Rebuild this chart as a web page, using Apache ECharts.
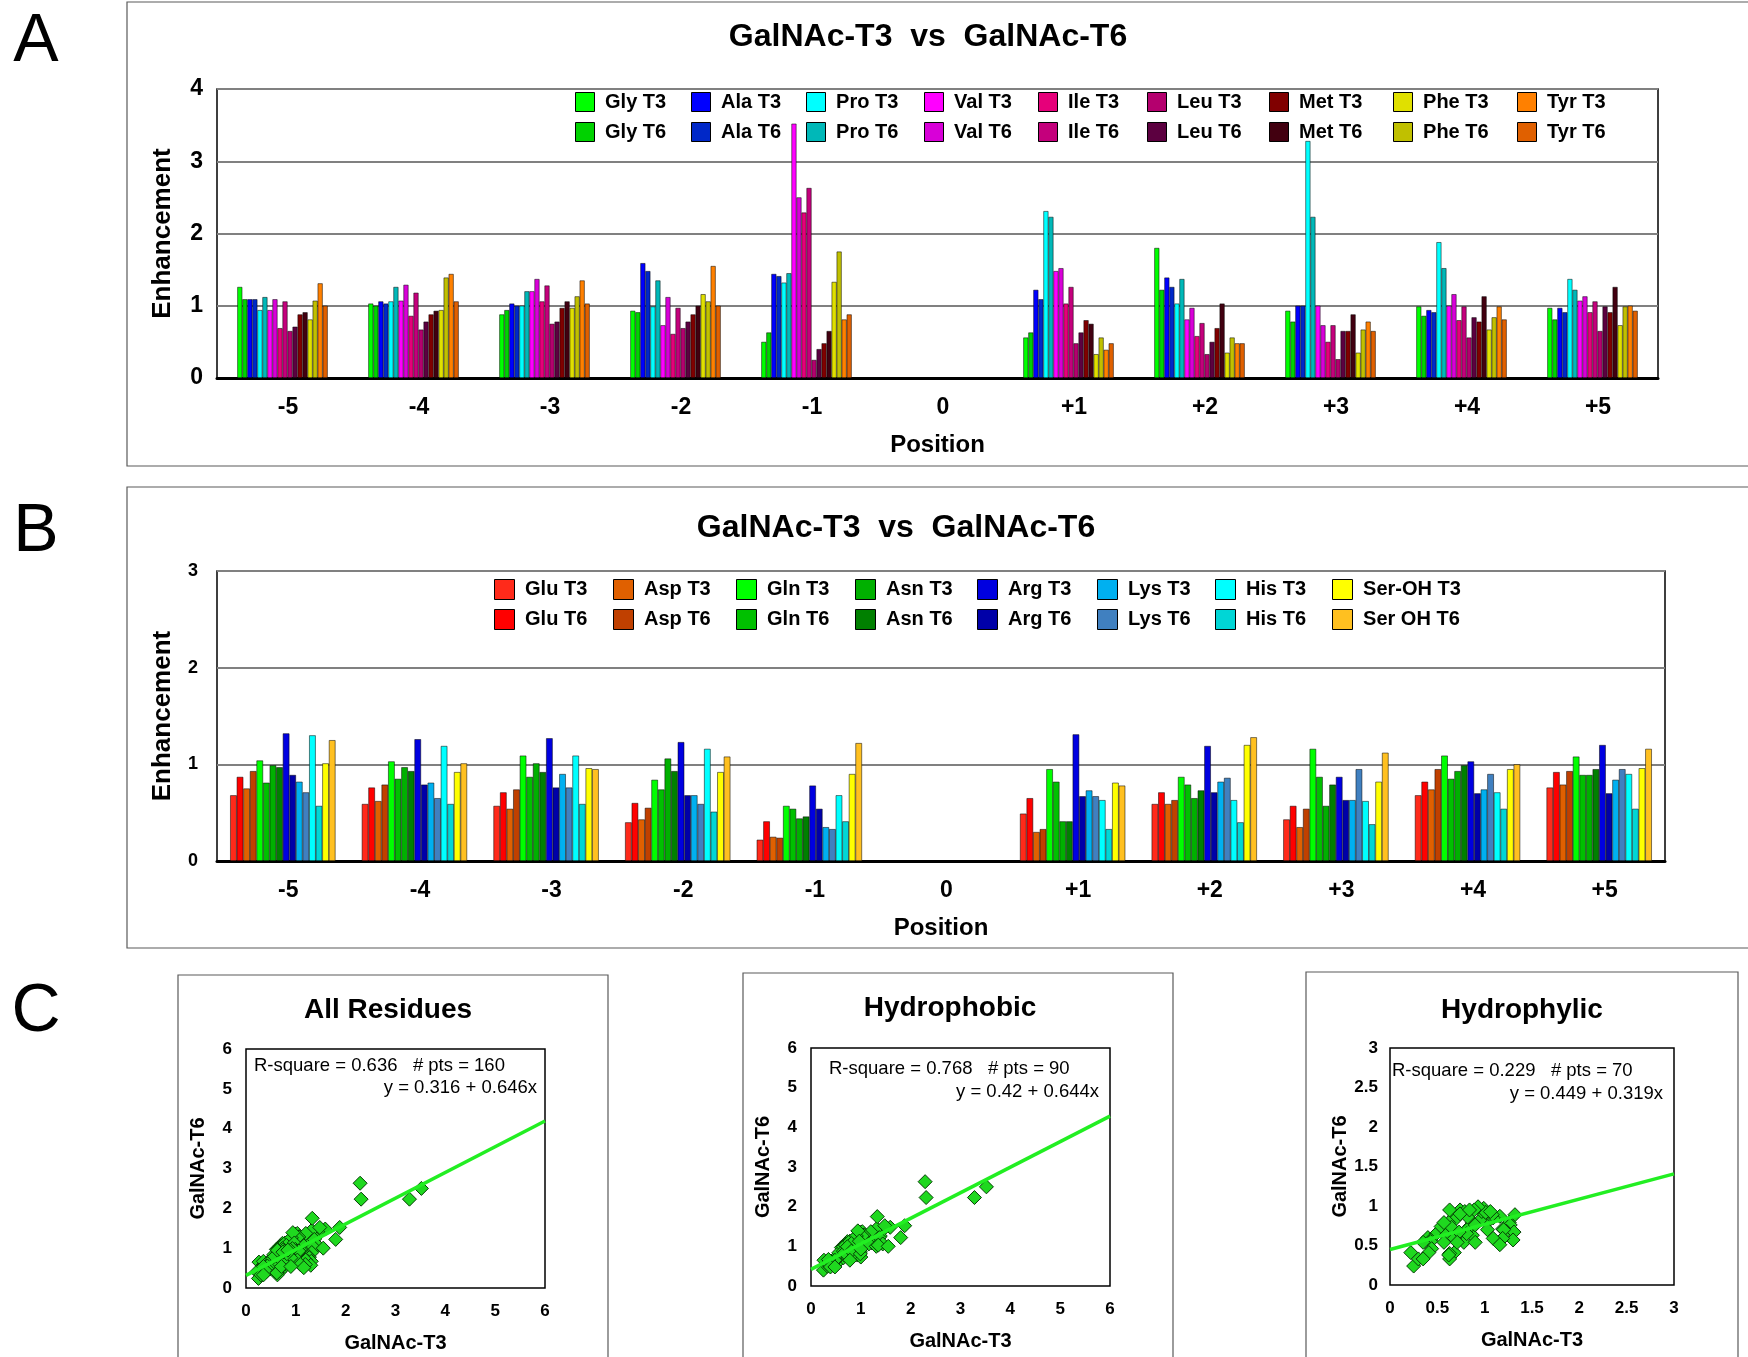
<!DOCTYPE html>
<html><head><meta charset="utf-8">
<script src="https://cdn.jsdelivr.net/npm/echarts@6.0.0/dist/echarts.min.js"></script>
<style>html,body{margin:0;padding:0;background:#fff}#c{width:1748px;height:1357px}</style>
</head><body><div id="c"></div><script>
// ---------------- DATA ----------------
const positions = ['-5','-4','-3','-2','-1','0','+1','+2','+3','+4','+5'];

// Panel A (hydrophobic residues), values per position -5..+5 (0 has no bar)
const glyT3 = [1.26, 1.03, 0.88, 0.93, 0.50, null, 0.56, 1.80, 0.93, 0.99, 0.97];
const glyT6 = [1.09, 1.00, 0.94, 0.91, 0.63, null, 0.63, 1.22, 0.78, 0.86, 0.81];
const alaT3 = [1.09, 1.06, 1.03, 1.59, 1.44, null, 1.22, 1.39, 1.00, 0.94, 0.97];
const alaT6 = [1.09, 1.03, 1.00, 1.48, 1.41, null, 1.09, 1.26, 1.00, 0.91, 0.91];
const proT3 = [0.94, 1.06, 1.00, 0.99, 1.32, null, 2.31, 1.03, 3.28, 1.88, 1.37];
const proT6 = [1.12, 1.26, 1.20, 1.35, 1.45, null, 2.23, 1.37, 2.23, 1.52, 1.22];
const valT3 = [0.94, 1.07, 1.20, 0.73, 3.52, null, 1.48, 0.81, 1.00, 1.00, 1.07];
const valT6 = [1.09, 1.29, 1.37, 1.12, 2.50, null, 1.52, 0.97, 0.73, 1.16, 1.13];
const ileT3 = [0.69, 0.86, 1.06, 0.61, 2.29, null, 1.03, 0.58, 0.50, 0.80, 0.91];
const ileT6 = [1.06, 1.18, 1.28, 0.97, 2.63, null, 1.26, 0.76, 0.73, 0.99, 1.06];
const leuT3 = [0.65, 0.67, 0.75, 0.69, 0.25, null, 0.48, 0.33, 0.26, 0.56, 0.65];
const leuT6 = [0.71, 0.78, 0.78, 0.78, 0.40, null, 0.63, 0.50, 0.65, 0.84, 0.99];
const metT3 = [0.88, 0.88, 0.97, 0.88, 0.48, null, 0.80, 0.69, 0.65, 0.78, 0.91];
const metT6 = [0.91, 0.93, 1.06, 1.00, 0.65, null, 0.75, 1.03, 0.88, 1.13, 1.26];
const pheT3 = [0.81, 0.94, 0.97, 1.16, 1.33, null, 0.33, 0.35, 0.35, 0.67, 0.73];
const pheT6 = [1.07, 1.39, 1.13, 1.06, 1.75, null, 0.56, 0.56, 0.67, 0.84, 0.99];
const tyrT3 = [1.31, 1.44, 1.35, 1.55, 0.81, null, 0.39, 0.48, 0.78, 0.99, 1.00];
const tyrT6 = [1.00, 1.06, 1.03, 1.00, 0.88, null, 0.48, 0.48, 0.65, 0.81, 0.93];

// Panel B (hydrophilic residues)
const gluT3 = [0.68, 0.59, 0.57, 0.40, 0.22, null, 0.49, 0.59, 0.43, 0.68, 0.76];
const gluT6 = [0.87, 0.76, 0.71, 0.60, 0.41, null, 0.65, 0.71, 0.57, 0.82, 0.92];
const aspT3 = [0.75, 0.62, 0.54, 0.43, 0.25, null, 0.30, 0.59, 0.35, 0.74, 0.79];
const aspT6 = [0.93, 0.79, 0.74, 0.55, 0.24, null, 0.33, 0.63, 0.54, 0.95, 0.93];
const glnT3 = [1.04, 1.03, 1.09, 0.84, 0.57, null, 0.95, 0.87, 1.16, 1.09, 1.08];
const glnT6 = [0.81, 0.85, 0.87, 0.74, 0.54, null, 0.82, 0.79, 0.87, 0.85, 0.89];
const asnT3 = [0.99, 0.97, 1.01, 1.06, 0.44, null, 0.41, 0.65, 0.57, 0.93, 0.89];
const asnT6 = [0.97, 0.93, 0.92, 0.93, 0.46, null, 0.41, 0.73, 0.79, 0.99, 0.95];
const argT3 = [1.32, 1.26, 1.27, 1.23, 0.78, null, 1.31, 1.19, 0.87, 1.03, 1.20];
const argT6 = [0.89, 0.79, 0.76, 0.68, 0.54, null, 0.67, 0.71, 0.63, 0.70, 0.70];
const lysT3 = [0.82, 0.81, 0.90, 0.68, 0.35, null, 0.73, 0.82, 0.63, 0.74, 0.84];
const lysT6 = [0.71, 0.65, 0.76, 0.59, 0.33, null, 0.67, 0.86, 0.95, 0.90, 0.95];
const hisT3 = [1.30, 1.19, 1.09, 1.16, 0.68, null, 0.63, 0.63, 0.62, 0.71, 0.90];
const hisT6 = [0.57, 0.59, 0.59, 0.51, 0.41, null, 0.33, 0.40, 0.38, 0.54, 0.54];
const serT3 = [1.01, 0.92, 0.96, 0.92, 0.90, null, 0.81, 1.20, 0.82, 0.95, 0.96];
const serT6 = [1.25, 1.01, 0.95, 1.08, 1.22, null, 0.78, 1.28, 1.12, 1.00, 1.16];

const namesA_T3 = ['Gly T3','Ala T3','Pro T3','Val T3','Ile T3','Leu T3','Met T3','Phe T3','Tyr T3'];
const namesA_T6 = ['Gly T6','Ala T6','Pro T6','Val T6','Ile T6','Leu T6','Met T6','Phe T6','Tyr T6'];
const namesB_T3 = ['Glu T3','Asp T3','Gln T3','Asn T3','Arg T3','Lys T3','His T3','Ser-OH T3'];
const namesB_T6 = ['Glu T6','Asp T6','Gln T6','Asn T6','Arg T6','Lys T6','His T6','Ser OH T6'];

const valuesA_T3 = [glyT3, alaT3, proT3, valT3, ileT3, leuT3, metT3, pheT3, tyrT3];
const valuesA_T6 = [glyT6, alaT6, proT6, valT6, ileT6, leuT6, metT6, pheT6, tyrT6];
const valuesB_T3 = [gluT3, aspT3, glnT3, asnT3, argT3, lysT3, hisT3, serT3];
const valuesB_T6 = [gluT6, aspT6, glnT6, asnT6, argT6, lysT6, hisT6, serT6];

// Panel C texts & regression lines (as printed on the chart)
const scatterTitles = ['All Residues', 'Hydrophobic', 'Hydrophylic'];
const statTexts = ['R-square = 0.636   # pts = 160', 'R-square = 0.768   # pts = 90', 'R-square = 0.229   # pts = 70'];
const eqTexts = ['y = 0.316 + 0.646x', 'y = 0.42 + 0.644x', 'y = 0.449 + 0.319x'];
const fitAll = [[0, 0.316], [6, 4.192]];
const fitPhobic = [[0, 0.42], [6, 4.284]];
const fitPhilic = [[0, 0.449], [3, 1.406]];

// ---------------- STYLE ----------------
const FF = '"Liberation Sans", Arial, Helvetica, sans-serif';
const colorsA_T3 = ['#00ff00','#0000ff','#00ffff','#ff00ff','#e6007a','#b4006e','#800000','#e0e000','#ff8000'];
const colorsA_T6 = ['#00d200','#0028c8','#00b8b8','#d800d8','#c4007c','#5c0040','#420010','#c0c000','#e06000'];
const colorsB_T3 = ['#ff2a1a','#e06000','#00ff00','#00b000','#0000e0','#00b0f0','#00ffff','#ffff00'];
const colorsB_T6 = ['#ff0000','#c04000','#00c000','#008000','#0000a8','#4080c0','#00d6d6','#ffc020'];
const legendLeftA = [575, 691, 806, 924, 1038, 1147, 1269, 1393, 1517];
const legendLeftB = [494, 613, 736, 855, 977, 1097, 1215, 1332];

// build scatter pairs from bar data
function pairs(t3s, t6s) {
  const out = [];
  t3s.forEach((arr, i) => arr.forEach((v, j) => { if (v != null) out.push([v, t6s[i][j]]); }));
  return out;
}
const phobicPts = pairs(valuesA_T3, valuesA_T6);
const philicPts = pairs(valuesB_T3.slice(0, 7), valuesB_T6.slice(0, 7));
const allPts = phobicPts.concat(philicPts);

const chart = echarts.init(document.getElementById('c'), null, {renderer: 'canvas', width: 1748, height: 1357});

const grids = [
  {left: 217, top: 89, width: 1441, height: 289, show: true, borderColor: '#000', borderWidth: 1.5, backgroundColor: 'transparent'},
  {left: 217, top: 571, width: 1448, height: 290, show: true, borderColor: '#000', borderWidth: 1.5, backgroundColor: 'transparent'},
  {left: 246, top: 1049, width: 299, height: 239, show: true, borderColor: '#000', borderWidth: 1.5, backgroundColor: 'transparent'},
  {left: 811, top: 1048, width: 299, height: 238, show: true, borderColor: '#000', borderWidth: 1.5, backgroundColor: 'transparent'},
  {left: 1390, top: 1048, width: 284, height: 237, show: true, borderColor: '#000', borderWidth: 1.5, backgroundColor: 'transparent'}
];

function catAxis(gi) {
  return {
    type: 'category', gridIndex: gi, data: positions,
    axisTick: {show: false},
    axisLine: {show: true, lineStyle: {color: '#000', width: 3}},
    axisLabel: {color: '#000', fontFamily: FF, fontWeight: 'bold', fontSize: 23, margin: 18, padding: [0, 0, 0, 11]},
    name: 'Position', nameLocation: 'middle', nameGap: 55,
    nameTextStyle: {color: '#000', fontFamily: FF, fontWeight: 'bold', fontSize: 24},
    splitLine: {show: false}
  };
}
function valAxisBar(gi, max, fs, margin) {
  return {
    type: 'value', gridIndex: gi, min: 0, max: max, interval: 1,
    axisLine: {show: false}, axisTick: {show: false},
    axisLabel: {color: '#000', fontFamily: FF, fontWeight: 'bold', fontSize: fs, margin: margin},
    splitLine: {show: true, lineStyle: {color: '#808080', width: 2}},
    name: 'Enhancement', nameLocation: 'middle', nameGap: 41, nameRotate: 90,
    nameTextStyle: {color: '#000', fontFamily: FF, fontWeight: 'bold', fontSize: 26}
  };
}
function scatX(gi, max, interval) {
  return {
    type: 'value', gridIndex: gi, min: 0, max: max, interval: interval,
    axisLine: {show: false}, axisTick: {show: false}, splitLine: {show: false},
    axisLabel: {color: '#000', fontFamily: FF, fontWeight: 'bold', fontSize: 17, margin: 15},
    name: 'GalNAc-T3', nameLocation: 'middle', nameGap: 45,
    nameTextStyle: {color: '#000', fontFamily: FF, fontWeight: 'bold', fontSize: 20}
  };
}
function scatY(gi, max, interval, margin) {
  return {
    type: 'value', gridIndex: gi, min: 0, max: max, interval: interval,
    axisLine: {show: false}, axisTick: {show: false}, splitLine: {show: false},
    axisLabel: {color: '#000', fontFamily: FF, fontWeight: 'bold', fontSize: 17, margin: margin},
    name: 'GalNAc-T6', nameLocation: 'middle', nameGap: 38, nameRotate: 90,
    nameTextStyle: {color: '#000', fontFamily: FF, fontWeight: 'bold', fontSize: 20}
  };
}

const series = [];
function addBars(namesT3, namesT6, valsT3, valsT6, colT3, colT6, axisIdx, catGap) {
  for (let i = 0; i < namesT3.length; i++) {
    [[namesT3[i], valsT3[i], colT3[i]], [namesT6[i], valsT6[i], colT6[i]]].forEach(([n, d, c]) => {
      series.push({
        name: n, type: 'bar', xAxisIndex: axisIdx, yAxisIndex: axisIdx, data: d,
        barGap: '0%', barCategoryGap: catGap, animation: false,
        itemStyle: {color: c, borderColor: 'rgba(0,0,0,0.85)', borderWidth: 0.6}
      });
    });
  }
}
addBars(namesA_T3, namesA_T6, valuesA_T3, valuesA_T6, colorsA_T3, colorsA_T6, 0, '31%');
addBars(namesB_T3, namesB_T6, valuesB_T3, valuesB_T6, colorsB_T3, colorsB_T6, 1, '20%');

const scatSets = [allPts, phobicPts, philicPts];
const fits = [fitAll, fitPhobic, fitPhilic];
scatSets.forEach((pts, k) => {
  series.push({
    name: 'pts' + k, type: 'scatter', xAxisIndex: 2 + k, yAxisIndex: 2 + k, data: pts,
    symbol: 'diamond', symbolSize: 14, animation: false, z: 3,
    itemStyle: {color: '#1fd81f', borderColor: '#063f06', borderWidth: 1, opacity: 1}
  });
  series.push({
    name: 'fit' + k, type: 'line', xAxisIndex: 2 + k, yAxisIndex: 2 + k, data: fits[k],
    symbol: 'none', animation: false, z: 4,
    lineStyle: {color: '#22ee22', width: 3.5}
  });
});

const legends = [];
function addLegends(namesT3, namesT6, lefts, top, size, gap) {
  for (let i = 0; i < namesT3.length; i++) {
    legends.push({
      orient: 'vertical', left: lefts[i], top: top, padding: 0,
      itemWidth: size, itemHeight: size, itemGap: gap, icon: 'rect',
      selectedMode: false, data: [namesT3[i], namesT6[i]],
      formatter: ' {name}',
      itemStyle: {borderColor: '#000', borderWidth: 1},
      textStyle: {color: '#000', fontFamily: FF, fontWeight: 'bold', fontSize: 20}
    });
  }
}
addLegends(namesA_T3, namesA_T6, legendLeftA, 92, 19, 10);
addLegends(namesB_T3, namesB_T6, legendLeftB, 579, 20, 9);

function txt(x, y, text, font, align, valign) {
  return {type: 'text', x: x, y: y, z: 50, silent: true,
    style: {text: text, font: font, fill: '#000', textAlign: align, textVerticalAlign: valign, align: align, verticalAlign: valign}};
}
function box(x, y, w, h) {
  return {type: 'rect', shape: {x: x, y: y, width: w, height: h}, z: -1, silent: true,
    style: {fill: 'none', stroke: '#5a5a5a', lineWidth: 1.2}};
}

const graphics = [
  box(127, 2, 1700, 464),
  box(127, 487, 1700, 461),
  box(178, 975, 430, 420),
  box(743, 973, 430, 420),
  box(1306, 972, 432, 420),
  txt(36, 42, 'A', '68px ' + FF, 'center', 'middle'),
  txt(36, 532, 'B', '68px ' + FF, 'center', 'middle'),
  txt(36, 1012, 'C', '68px ' + FF, 'center', 'middle'),
  txt(928, 37, 'GalNAc-T3  vs  GalNAc-T6', 'bold 32px ' + FF, 'center', 'middle'),
  txt(896, 528, 'GalNAc-T3  vs  GalNAc-T6', 'bold 32px ' + FF, 'center', 'middle'),
  txt(388, 1010, scatterTitles[0], 'bold 28px ' + FF, 'center', 'middle'),
  txt(950, 1008, scatterTitles[1], 'bold 28px ' + FF, 'center', 'middle'),
  txt(1522, 1010, scatterTitles[2], 'bold 28px ' + FF, 'center', 'middle'),
  txt(254, 1066, statTexts[0], '18.5px ' + FF, 'left', 'middle'),
  txt(537, 1088, eqTexts[0], '18.5px ' + FF, 'right', 'middle'),
  txt(829, 1069, statTexts[1], '18.5px ' + FF, 'left', 'middle'),
  txt(1099, 1092, eqTexts[1], '18.5px ' + FF, 'right', 'middle'),
  txt(1392, 1071, statTexts[2], '18.5px ' + FF, 'left', 'middle'),
  txt(1663, 1094, eqTexts[2], '18.5px ' + FF, 'right', 'middle')
];

const yB = valAxisBar(1, 3, 18, 19);
chart.setOption({
  backgroundColor: '#fff',
  animation: false,
  textStyle: {fontFamily: FF},
  grid: grids,
  xAxis: [catAxis(0), catAxis(1), scatX(2, 6, 1), scatX(3, 6, 1), scatX(4, 3, 0.5)],
  yAxis: [valAxisBar(0, 4, 23, 14), yB, scatY(2, 6, 1, 14), scatY(3, 6, 1, 14), scatY(4, 3, 0.5, 12)],
  legend: legends,
  series: series,
  graphic: graphics
});
</script></body></html>
